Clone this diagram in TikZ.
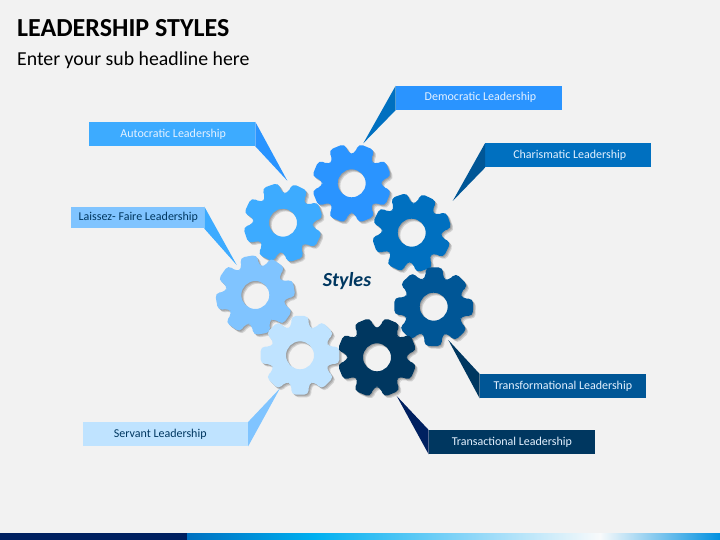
\documentclass[tikz,border=0pt]{standalone}
\usepackage{fontspec}
\setmainfont{Carlito}
\definecolor{bg}{HTML}{F2F2F2}
\definecolor{cDem}{HTML}{2A94FF}
\definecolor{cCha}{HTML}{0070C0}
\definecolor{cTfm}{HTML}{005696}
\definecolor{cTsc}{HTML}{003760}
\definecolor{cNavy}{HTML}{002060}
\definecolor{cAut}{HTML}{3DABFF}
\definecolor{cLai}{HTML}{80C4FF}
\definecolor{cSer}{HTML}{BFE3FF}
\definecolor{lightlab}{HTML}{E4F1FF}
\definecolor{b1}{HTML}{0070C0}
\definecolor{b2}{HTML}{00B0F0}
\definecolor{b3}{HTML}{8CD6F8}
\definecolor{b4}{HTML}{F8FAFB}
\definecolor{b5}{HTML}{0090E0}
\tikzset{
  lab/.style={minimum width=#1, minimum height=24pt, inner sep=0pt, anchor=north west, font=\fontsize{12}{13}\selectfont, text height=8.5pt, text depth=2pt},
  lab/.default=166pt,
  labup/.style={text height=8pt, text depth=3.5pt},
}
\newcommand{\gearoutline}[1]{%
  (#1-22.5:29.5)
  \foreach \k in {0,...,7} {
    -- ({#1+45*\k-17}:29.5) -- ({#1+45*\k-12.5}:40.3) -- ({#1+45*\k+12.5}:40.3) -- ({#1+45*\k+17}:29.5)
  } -- cycle (0,0) circle[radius=14]}
\newcommand{\gear}[4]{% x y rotation colour
  \begin{scope}[shift={(#1,#2)}]
    \foreach \o in {1,2,3} {
      \fill[black, opacity=0.13, rounded corners=4.5pt, even odd rule, shift={(\o*0.9,\o*0.9)}] \gearoutline{#3};
    }
    \fill[#4, rounded corners=4.5pt, even odd rule] \gearoutline{#3};
  \end{scope}}
\begin{document}
\begin{tikzpicture}[x=1pt,y=-1pt]
\useasboundingbox (0,0) rectangle (720,540);
\fill[bg] (0,0) rectangle (720,540);
% bottom bar
\fill[white] (0,532.6) rectangle (720,533.6);
\fill[cNavy] (0,533.4) rectangle (187,540);
\shade[left color=b1, right color=b2] (187,533.4) rectangle (315,540);
\shade[left color=b2, right color=b3] (314.8,533.4) rectangle (470,540);
\shade[left color=b3, right color=b4] (469.8,533.4) rectangle (600,540);
\shade[left color=b4, right color=b5] (599.8,533.4) rectangle (720,540);
% titles
\node[anchor=base west, inner sep=0pt, font=\fontsize{26}{30}\selectfont\bfseries, text=black] (title) at (17,37) {LEADERSHIP STYLES};
\node[anchor=base west, inner sep=0pt, font=\fontsize{19.8}{24}\selectfont, text=black] (subtitle) at (17,66) {Enter your sub headline here};
% gears
\gear{283}{222.7}{26}{cAut}
\gear{351.7}{183.3}{22.5}{cDem}
\gear{411.7}{232.7}{26}{cCha}
\gear{433.7}{306.7}{1}{cTfm}
\gear{377}{357.3}{22.5}{cTsc}
\gear{255.3}{295}{35}{cLai}
\gear{300}{355.3}{0}{cSer}
\node[font=\fontsize{20}{24}\selectfont\bfseries\itshape, text=cTsc, inner sep=0pt] (styles) at (347,281) {Styles};
% labels
\node[lab, labup, fill=cDem, text=lightlab] (dem) at (395.7,85.7) {\hspace*{3pt}Democratic Leadership};
\node[lab, text height=8pt, text depth=2.5pt, fill=cCha, text=lightlab] (cha) at (485,143.3) {\hspace*{3pt}Charismatic Leadership};
\node[lab, fill=cAut, text=lightlab] (aut) at (89,122) {\hspace*{2pt}Autocratic Leadership};
\node[lab=133.7pt, minimum height=21.6pt, fill=cLai, text=cTsc] (lai) at (70.3,206.7) {\hspace*{2pt}Laissez- Faire Leadership};
\node[lab, fill=cTfm, text=lightlab] (tfm) at (479.7,374) {Transformational Leadership};
\node[lab, fill=cTsc, text=lightlab] (tsc) at (428.7,430) {Transactional Leadership};
\node[lab=165.4pt, fill=cSer, text=cTsc] (ser) at (82.3,422) {Servant Leadership\hspace*{10pt}};
\coordinate (demtip) at (363.3,143.3);
\coordinate (chatip) at (452.7,201);
\coordinate (auttip) at (287.3,180.7);
\coordinate (laitip) at (236.7,265);
\coordinate (tfmtip) at (448.3,340);
\coordinate (tsctip) at (396.7,396);
\coordinate (sertip) at (280,388.3);
\fill[cCha] (dem.north west) -- (dem.south west) -- (demtip) -- cycle;
\fill[cTfm] (cha.north west) -- (cha.south west) -- (chatip) -- cycle;
\fill[cDem] (aut.north east) -- (aut.south east) -- (auttip) -- cycle;
\fill[cAut] (lai.north east) -- (lai.south east) -- (laitip) -- cycle;
\fill[cTsc] (tfm.north west) -- (tfm.south west) -- (tfmtip) -- cycle;
\fill[cNavy] (tsc.north west) -- (tsc.south west) -- (tsctip) -- cycle;
\fill[cLai] (ser.north east) -- (ser.south east) -- (sertip) -- cycle;
\end{tikzpicture}
\end{document}
